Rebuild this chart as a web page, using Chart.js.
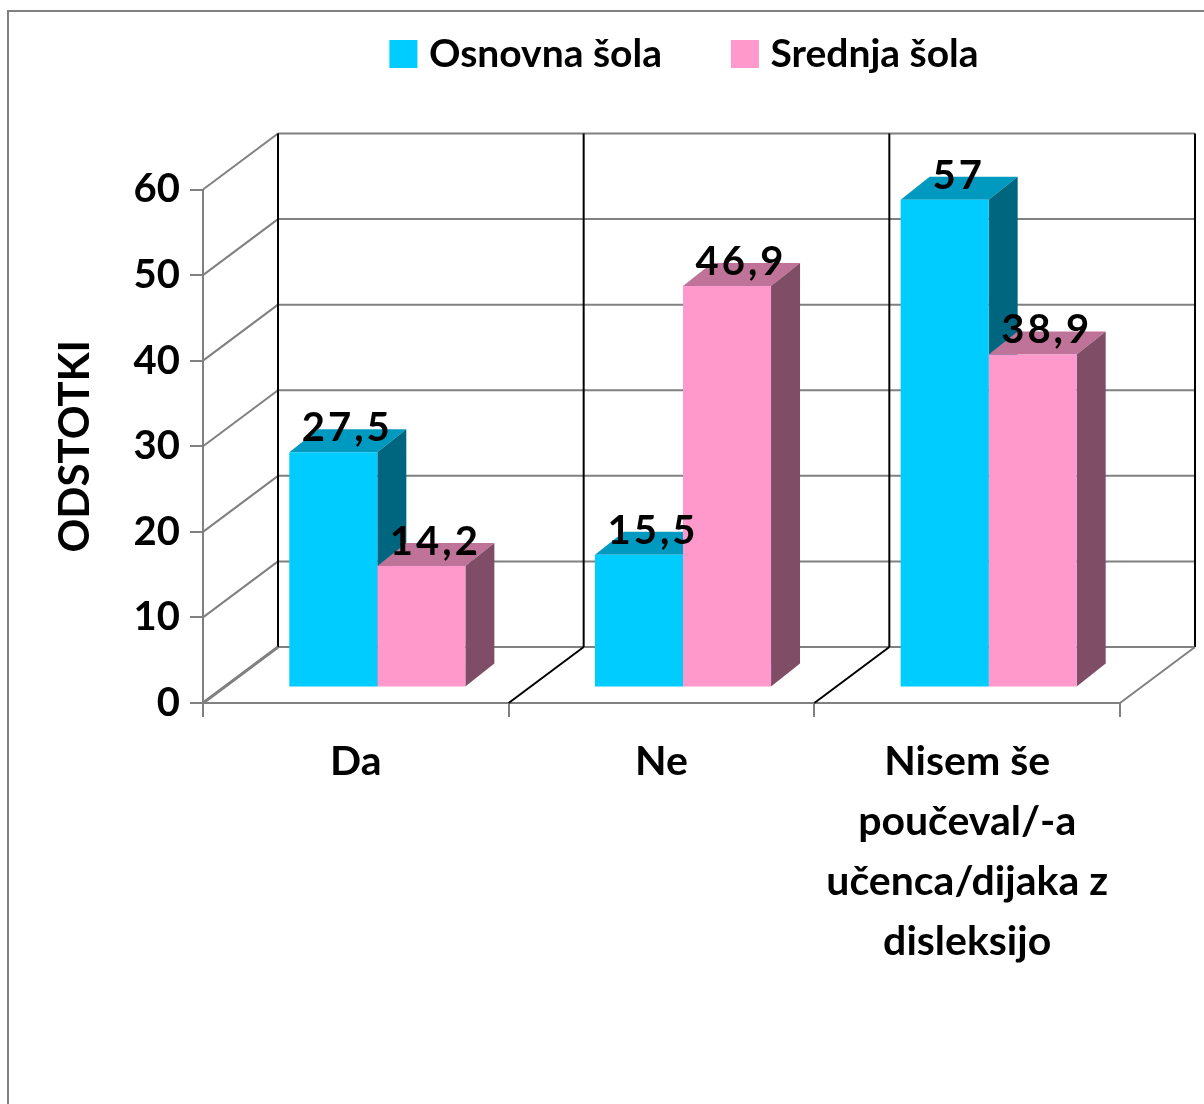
<!DOCTYPE html>
<html><head><meta charset="utf-8">
<style>html,body{margin:0;padding:0;background:#fff;overflow:hidden}
#frame{position:absolute;left:7px;top:10px;width:1197px;height:1094px;border-left:2px solid #808080;border-top:2px solid #808080;box-sizing:border-box}
canvas{position:absolute;left:0;top:0}</style>
<script src="https://cdn.jsdelivr.net/npm/chart.js@4"></script></head>
<body><div id="frame"></div><canvas id="c" width="1204" height="1104"></canvas>
<script>
const categories = [["Da"], ["Ne"], ["Nisem še", "poučeval/-a", "učenca/dijaka z", "disleksijo"]];
const osnovna = [27.5, 15.5, 57];
const srednja = [14.2, 46.9, 38.9];
const labelsOsnovna = ["27,5", "15,5", "57"];
const labelsSrednja = ["14,2", "46,9", "38,9"];
const seriesNames = ["Osnovna šola", "Srednja šola"];
const seriesColors = ['#00CCFF', '#FF99CC'];
const FF = 'Lato, sans-serif';
const GRAY = '#808080';
const wall = {dx: 75, dy: -56}, shift = {dx: 21.5, dy: -15.5}, depth = {dx: 29, dy: -23};
const faces = [{top: '#0099BF', side: '#006680'}, {top: '#BF7399', side: '#804D66'}];
const seg = (ctx, x1, y1, x2, y2, col, w) => {ctx.beginPath();ctx.moveTo(x1,y1);ctx.lineTo(x2,y2);ctx.strokeStyle=col;ctx.lineWidth=w;ctx.stroke();};
const poly = (ctx, pts, col) => {ctx.beginPath();pts.forEach((p,i)=>i?ctx.lineTo(p[0],p[1]):ctx.moveTo(p[0],p[1]));ctx.closePath();ctx.fillStyle=col;ctx.fill();};

const plugin3d = {
  id: 'plugin3d',
  afterLayout(chart) {
    const l = chart.legend;
    l.left += 128; l.right += 128; l.top -= 106; l.bottom -= 106;
  },
  beforeDatasetsDraw(chart) {
    const {ctx, chartArea: a, scales: {x, y}} = chart;
    ctx.save();
    y.ticks.forEach(t => {
      const py = y.getPixelForValue(t.value);
      seg(ctx, a.left, py, a.left + wall.dx, py + wall.dy, GRAY, 2);
      seg(ctx, a.left + wall.dx, py + wall.dy, a.right + wall.dx, py + wall.dy, GRAY, 2);
    });
    const yTop = y.getPixelForValue(60), y0 = y.getPixelForValue(0);
    const n = categories.length;
    for (let i = 0; i <= n; i++) {
      const px = a.left + (a.right - a.left) * i / n;
      seg(ctx, px + wall.dx, yTop + wall.dy, px + wall.dx, y0 + wall.dy, '#000', 2);
      seg(ctx, px, y0, px + wall.dx, y0 + wall.dy, (i === 0 || i === n) ? GRAY : '#000', i === 0 ? 3 : 2);
    }
    // side and top faces of the bars, read from the library's bar elements
    ctx.translate(shift.dx, shift.dy);
    faces.forEach((f, d) => {
      chart.getDatasetMeta(d).data.forEach(b => {
        const l = b.x - b.width / 2, r = b.x + b.width / 2;
        poly(ctx, [[l,b.y],[r,b.y],[r+depth.dx,b.y+depth.dy],[l+depth.dx,b.y+depth.dy]], f.top);
        poly(ctx, [[r,b.y],[r,b.base],[r+depth.dx,b.base+depth.dy],[r+depth.dx,b.y+depth.dy]], f.side);
      });
    });
    ctx.restore();
  },
  beforeDatasetDraw(chart) { chart.ctx.save(); chart.ctx.translate(shift.dx, shift.dy); },
  afterDatasetDraw(chart) { chart.ctx.restore(); },
  afterDatasetsDraw(chart) {
    const {ctx} = chart;
    ctx.save();
    ctx.font = 'bold 40px ' + FF; ctx.fillStyle = '#000';
    ctx.letterSpacing = '3px';
    ctx.textAlign = 'center'; ctx.textBaseline = 'middle';
    [labelsOsnovna, labelsSrednja].forEach((txt, d) => {
      chart.getDatasetMeta(d).data.forEach((b, i) => {
        ctx.fillText(txt[i], b.x + shift.dx + 14, b.y + shift.dy - 24);
      });
    });
    ctx.restore();
  }
};

new Chart(document.getElementById('c'), {
  type: 'bar',
  data: {
    labels: categories,
    datasets: [
      {label: seriesNames[0], data: osnovna, backgroundColor: seriesColors[0], clip: false},
      {label: seriesNames[1], data: srednja, backgroundColor: seriesColors[1], clip: false}
    ]
  },
  options: {
    responsive: false, animation: false, devicePixelRatio: 1,
    categoryPercentage: 0.576, barPercentage: 1,
    layout: {padding: {left: 0, right: 84, top: 63.5, bottom: 0}},
    plugins: {
      tooltip: {enabled: false},
      legend: {
        position: 'top',
        labels: {
          color: '#000', boxWidth: 12, boxHeight: 12, padding: 77,
          font: {family: FF, weight: 'bold', size: 39},
          generateLabels: () => seriesNames.map((text, i) => ({
            text, datasetIndex: i, fillStyle: seriesColors[i], strokeStyle: seriesColors[i], lineWidth: 16, fontColor: '#000'
          }))
        }
      }
    },
    scales: {
      x: {
        afterFit(s) { s.height = 401; },
        grid: {drawOnChartArea: false, color: GRAY, lineWidth: 2, tickLength: 14, tickColor: GRAY},
        border: {color: GRAY, width: 2},
        ticks: {color: '#000', padding: 15, autoSkip: false, maxRotation: 0, font: {family: FF, weight: 'bold', size: 41, lineHeight: 60/41}}
      },
      y: {
        min: 0, max: 60,
        afterFit(s) { s.width = 203; },
        grid: {drawOnChartArea: false, color: GRAY, lineWidth: 2, tickLength: 13, tickColor: GRAY},
        border: {color: GRAY, width: 2},
        ticks: {stepSize: 10, color: '#000', padding: 10, font: {family: FF, weight: 'bold', size: 40}},
        title: {display: true, text: 'ODSTOTKI', color: '#000', align: 'center', padding: {top: 50, bottom: 0}, font: {family: FF, weight: 'bold', size: 42}}
      }
    }
  },
  plugins: [plugin3d]
});
</script></body></html>
